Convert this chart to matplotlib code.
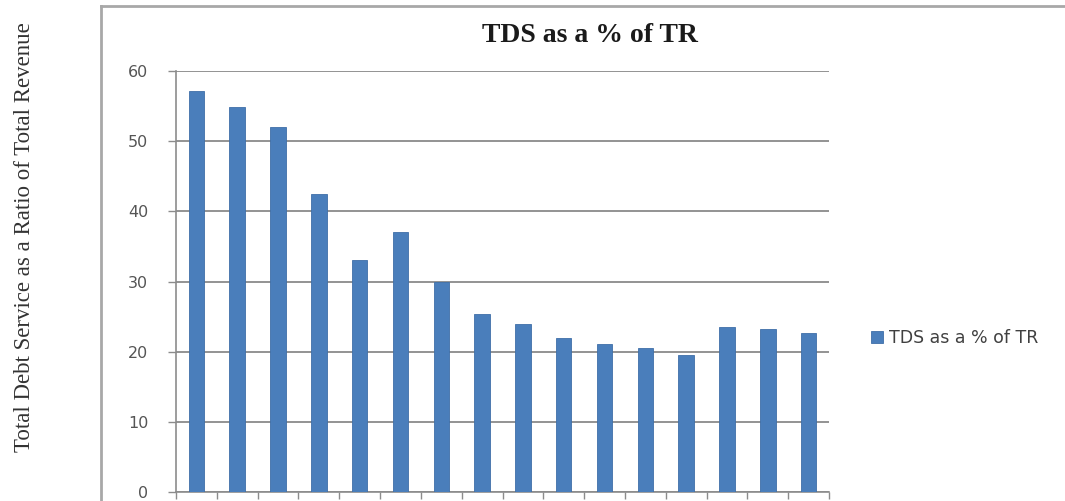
import numpy as np
import matplotlib
matplotlib.use("Agg")
import matplotlib.pyplot as plt
from matplotlib.lines import Line2D

# Total debt service as a share of total revenue, one bar per period
periods = list(range(1, 17))
tds_pct_tr = [57.1, 54.9, 52.0, 42.5, 33.1, 37.0, 30.0, 25.3,
              23.9, 22.0, 21.1, 20.5, 19.5, 23.5, 23.3, 22.7]
series_name = "TDS as a % of TR"
y_ticks = [0, 10, 20, 30, 40, 50, 60]

W, H = 1065, 501
fig = plt.figure(figsize=(W / 100, H / 100), dpi=100)
fig.patch.set_facecolor("white")

# plot area
ax = fig.add_axes([176 / W, 1 - 492 / H, (829 - 176) / W, (492 - 71) / H])
x = np.arange(len(periods))
bars = ax.bar(x, tds_pct_tr, width=0.38, color="#4A7EBB",
              edgecolor="#3F6FA8", linewidth=0.6, label=series_name, zorder=3)

ax.set_xlim(-0.5, len(periods) - 0.5)
ax.set_ylim(0, 60)
ax.set_yticks(y_ticks)
ax.set_yticklabels([str(v) for v in y_ticks], fontsize=11.5,
                   color="#555555", family="DejaVu Sans")
ax.set_xticks(np.arange(-0.5, len(periods), 1.0))
ax.set_xticklabels([])

ax.grid(axis="y", color="#939393", linewidth=1.4, zorder=0)
ax.set_axisbelow(True)
for side in ("top", "right"):
    ax.spines[side].set_visible(False)
for side in ("left", "bottom"):
    ax.spines[side].set_color("#8c8c8c")
    ax.spines[side].set_linewidth(1.2)
ax.tick_params(axis="y", length=6, width=1.0, color="#8c8c8c", pad=14)
ax.tick_params(axis="x", length=5, width=1.0, color="#8c8c8c")

# chart title and axis title
fig.text(590 / W, 1 - 36 / H, "TDS as a % of TR", ha="center", va="center",
         fontsize=20, fontweight="bold", family="Liberation Serif",
         color="#1a1a1a")
fig.text(25 / W, 1 - 237 / H, "Total Debt Service as a Ratio of Total Revenue",
         rotation=90, ha="center", va="center", fontsize=16.5,
         family="Liberation Serif", color="#333333")

# legend to the right of the plot area
leg = ax.legend(loc="center left", bbox_to_anchor=(855 / W, 1 - 338 / H),
                bbox_transform=fig.transFigure, frameon=False,
                handlelength=0.7, handleheight=0.7, handletextpad=0.35,
                prop={"family": "DejaVu Sans", "size": 12.5})
for t in leg.get_texts():
    t.set_color("#404040")

# chart frame (left and top edges)
frame_color = "#a8a8a8"
fig.add_artist(Line2D([101 / W, 101 / W], [0, 1 - 6 / H],
                      transform=fig.transFigure, color=frame_color, lw=2.0))
fig.add_artist(Line2D([101 / W, 1.0], [1 - 6 / H, 1 - 6 / H],
                      transform=fig.transFigure, color=frame_color, lw=2.0))

fig.savefig("out.png", dpi=100, facecolor="white")
